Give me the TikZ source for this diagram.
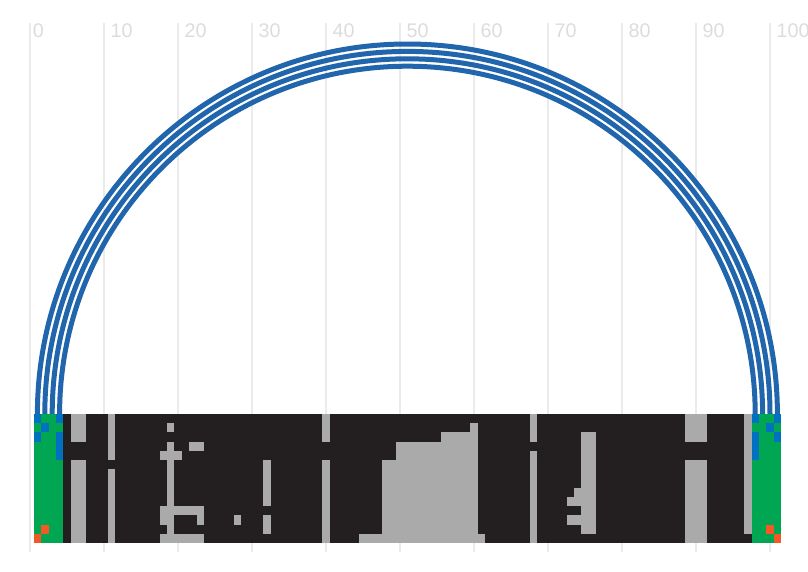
\documentclass[tikz,border=0pt]{standalone}
\usepackage{fontspec}
\setmainfont{Liberation Sans}
\usetikzlibrary{calc}
\definecolor{gridc}{HTML}{EBEBEB}
\definecolor{labc}{HTML}{DCDCDC}
\definecolor{arcc}{HTML}{2166AC}
\definecolor{darkc}{HTML}{231F20}
\definecolor{grayc}{HTML}{AAAAAA}
\definecolor{greenc}{HTML}{00A651}
\definecolor{bluec}{HTML}{0070C0}
\definecolor{orangec}{HTML}{F15A24}
% cells: columns #1..#2, rows #3..#4, colour #5
\newcommand\barcells[5]{\fill[#5] ({#1-0.5},{#3-1}) rectangle ({#2+0.5},#4);}
\begin{document}
\begin{tikzpicture}[x=0.75pt,y=-0.75pt,
  gridline/.style={draw=gridc,line width=1.1pt},
  ticklabel/.style={text=labc,font=\fontsize{14.8}{16}\selectfont,inner sep=0pt,anchor=base west},
  arcline/.style={draw=arcc,line width=3.75pt}]
\useasboundingbox (0,0) rectangle (808,572);
% grid and tick labels
\foreach \k in {0,...,10}{
  \pgfmathsetmacro\xx{30+74*\k}
  \pgfmathtruncatemacro\vv{10*\k}
  \pgfmathsetmacro\off{ifthenelse(\k==0,2.5,6.3)}
  \draw[gridline] (\xx,23) -- (\xx,552);
  \node[ticklabel] (lab\k) at (\xx+\off,37.3) {\vv};
}
% arcs
\coordinate (ctr) at (407.4,414);
\foreach \r in {370,362.6,355.2,347.8}{
  \draw[arcline] ($(ctr)+(-\r,0)$) arc[start angle=180,end angle=360,radius=\r];
}
% bar
\begin{scope}[shift={(30,414)},x=5.55pt,y=-6.9107pt]
  \barcells{1}{101}{1}{14}{darkc}
  \barcells{1}{4}{1}{14}{greenc}
  \barcells{98}{101}{1}{14}{greenc}
  % gray
  \barcells{6}{7}{1}{3}{grayc}
  \barcells{6}{7}{6}{14}{grayc}
  \barcells{11}{11}{1}{5}{grayc}
  \barcells{11}{11}{7}{14}{grayc}
  \barcells{19}{19}{2}{2}{grayc}
  \barcells{19}{19}{4}{14}{grayc}
  \barcells{22}{23}{4}{4}{grayc}
  \barcells{18}{20}{5}{5}{grayc}
  \barcells{18}{23}{11}{11}{grayc}
  \barcells{18}{18}{11}{12}{grayc}
  \barcells{23}{23}{11}{12}{grayc}
  \barcells{18}{23}{14}{14}{grayc}
  \barcells{28}{28}{12}{12}{grayc}
  \barcells{32}{32}{6}{10}{grayc}
  \barcells{32}{32}{12}{13}{grayc}
  \barcells{40}{40}{1}{3}{grayc}
  \barcells{40}{40}{6}{14}{grayc}
  \barcells{45}{61}{14}{14}{grayc}
  \barcells{48}{60}{6}{14}{grayc}
  \barcells{50}{60}{4}{14}{grayc}
  \barcells{56}{60}{3}{14}{grayc}
  \barcells{60}{60}{2}{14}{grayc}
  \barcells{68}{68}{1}{3}{grayc}
  \barcells{68}{68}{5}{14}{grayc}
  \barcells{75}{76}{3}{13}{grayc}
  \barcells{74}{75}{9}{10}{grayc}
  \barcells{73}{75}{10}{10}{grayc}
  \barcells{73}{75}{12}{12}{grayc}
  \barcells{89}{91}{1}{3}{grayc}
  \barcells{89}{91}{6}{14}{grayc}
  \barcells{97}{97}{1}{13}{grayc}
  % blue
  \barcells{1}{1}{1}{1}{bluec}
  \barcells{4}{4}{1}{1}{bluec}
  \barcells{2}{2}{2}{2}{bluec}
  \barcells{1}{1}{3}{3}{bluec}
  \barcells{4}{4}{3}{5}{bluec}
  \barcells{101}{101}{1}{1}{bluec}
  \barcells{98}{98}{1}{1}{bluec}
  \barcells{100}{100}{2}{2}{bluec}
  \barcells{101}{101}{3}{3}{bluec}
  \barcells{98}{98}{3}{5}{bluec}
  % orange
  \barcells{2}{2}{13}{13}{orangec}
  \barcells{1}{1}{14}{14}{orangec}
  \barcells{100}{100}{13}{13}{orangec}
  \barcells{101}{101}{14}{14}{orangec}
\end{scope}
\end{tikzpicture}
\end{document}
